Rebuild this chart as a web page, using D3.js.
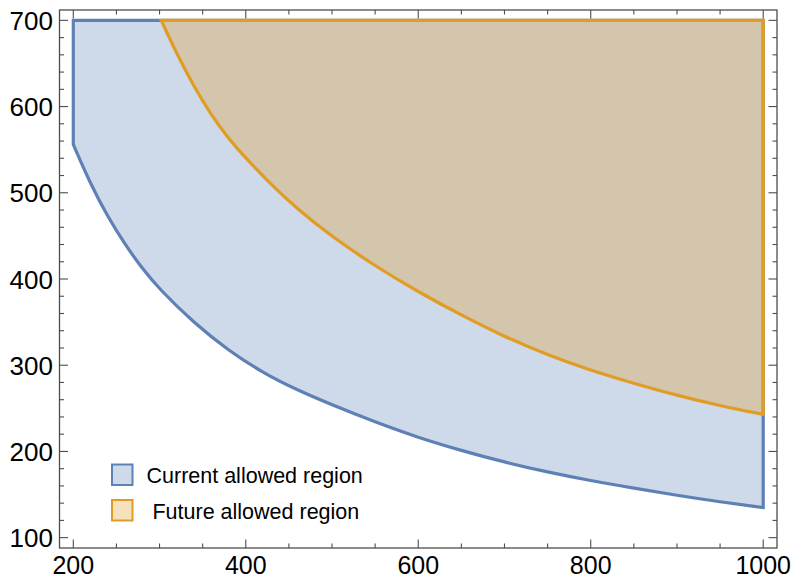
<!DOCTYPE html>
<html lang="en">
<head>
    <meta charset="UTF-8">
    <title>Allowed regions</title>
    <style>
        body {
            margin: 0;
            padding: 0;
            overflow: hidden;
            background: #fff;
        }

        text {
            font-family: "Liberation Sans", Arial, sans-serif;
            fill: #000;
        }

        .frame {
            fill: none;
            stroke: #4d4d4d;
            stroke-width: 1.3px;
        }

        .tick {
            stroke: #4d4d4d;
            stroke-width: 1.1px;
        }
    </style>
</head>
<body>
    <script src="https://d3js.org/d3.v7.min.js"></script>
    <script>
        // lower boundary of the current allowed region
        const currentX = [200, 220, 240, 260, 280, 300, 340, 380, 420, 460, 500, 550, 600, 650, 700, 750, 800, 850, 900, 950, 1000];
        const currentY = [556, 510, 472, 440, 412, 388, 349, 317, 291, 271, 254, 234, 216, 201, 187.5, 176, 166, 157.5, 149, 141.5, 135];

        // lower boundary of the future allowed region
        const futureX = [302, 320, 340, 360, 380, 400, 430, 460, 500, 550, 600, 650, 700, 750, 800, 850, 900, 950, 1000];
        const futureY = [700, 661, 623, 590, 563, 540, 509, 481, 449, 415, 385, 358, 333, 312, 294, 279, 265, 253, 243];

        const topY = 700;

        const xTicks = [200, 400, 600, 800, 1000];
        const yTicks = [100, 200, 300, 400, 500, 600, 700];

        const legendLabels = ["Current allowed region", " Future allowed region"];

        const width = 793;
        const height = 579;

        const blue = "#5e81b5";
        const orange = "#e19c24";

        const svg = d3.select("body").append("svg")
            .attr("width", width)
            .attr("height", height);

        const x = d3.scaleLinear().domain([184, 1016]).range([59.5, 777]);
        const y = d3.scaleLinear().domain([88, 712]).range([548, 10]);

        const current = currentX.map((d, i) => ({ x: d, y: currentY[i] }));
        const future = futureX.map((d, i) => ({ x: d, y: futureY[i] }));

        const area = d3.area()
            .x(d => x(d.x))
            .y0(d => y(d.y))
            .y1(y(topY))
            .curve(d3.curveBasis);

        // regions
        svg.append("path")
            .datum(current)
            .attr("d", area)
            .attr("fill", blue)
            .attr("fill-opacity", 0.3)
            .attr("stroke", blue)
            .attr("stroke-width", 3.2)
            .attr("stroke-linejoin", "miter");

        svg.append("path")
            .datum(future)
            .attr("d", area)
            .attr("fill", orange)
            .attr("fill-opacity", 0.3)
            .attr("stroke", orange)
            .attr("stroke-width", 3.2)
            .attr("stroke-linejoin", "miter");

        // frame
        const [x0, x1] = x.range();
        const [y0, y1] = y.range();

        svg.append("rect")
            .attr("class", "frame")
            .attr("x", x0)
            .attr("y", y1)
            .attr("width", x1 - x0)
            .attr("height", y0 - y1);

        const xMinor = d3.range(200, 1001, 50).filter(v => !xTicks.includes(v));
        const yMinor = d3.range(100, 701, 20).filter(v => !yTicks.includes(v));

        const ticks = svg.append("g");

        function xTickMarks(values, len) {
            values.forEach(v => {
                ticks.append("line").attr("class", "tick")
                    .attr("x1", x(v)).attr("x2", x(v))
                    .attr("y1", y0).attr("y2", y0 - len);
                ticks.append("line").attr("class", "tick")
                    .attr("x1", x(v)).attr("x2", x(v))
                    .attr("y1", y1).attr("y2", y1 + len);
            });
        }

        function yTickMarks(values, len) {
            values.forEach(v => {
                ticks.append("line").attr("class", "tick")
                    .attr("x1", x0).attr("x2", x0 + len)
                    .attr("y1", y(v)).attr("y2", y(v));
                ticks.append("line").attr("class", "tick")
                    .attr("x1", x1).attr("x2", x1 - len)
                    .attr("y1", y(v)).attr("y2", y(v));
            });
        }

        xTickMarks(xTicks, 8.5);
        xTickMarks(xMinor, 4.5);
        yTickMarks(yTicks, 8.5);
        yTickMarks(yMinor, 4.5);

        // tick labels
        svg.append("g")
            .selectAll("text")
            .data(xTicks)
            .enter().append("text")
            .attr("x", d => x(d))
            .attr("y", 573.5)
            .attr("text-anchor", "middle")
            .attr("font-size", "25px")
            .text(d => d);

        svg.append("g")
            .selectAll("text")
            .data(yTicks)
            .enter().append("text")
            .attr("x", 53)
            .attr("y", d => y(d) + 9.5)
            .attr("text-anchor", "end")
            .attr("font-size", "26px")
            .text(d => d);

        // legend
        const legend = svg.append("g")
            .selectAll("g")
            .data(legendLabels)
            .enter().append("g")
            .attr("transform", (d, i) => `translate(112,${464.5 + i * 35.5})`);

        legend.append("rect")
            .attr("width", 20.5)
            .attr("height", 20.5)
            .attr("fill", (d, i) => i === 0 ? blue : orange)
            .attr("fill-opacity", 0.3)
            .attr("stroke", (d, i) => i === 0 ? blue : orange)
            .attr("stroke-width", 2);

        legend.append("text")
            .attr("x", 34.5)
            .attr("y", 18.5)
            .attr("font-size", "21.5px")
            .attr("xml:space", "preserve")
            .style("white-space", "pre")
            .text(d => d);
    </script>
</body>
</html>
